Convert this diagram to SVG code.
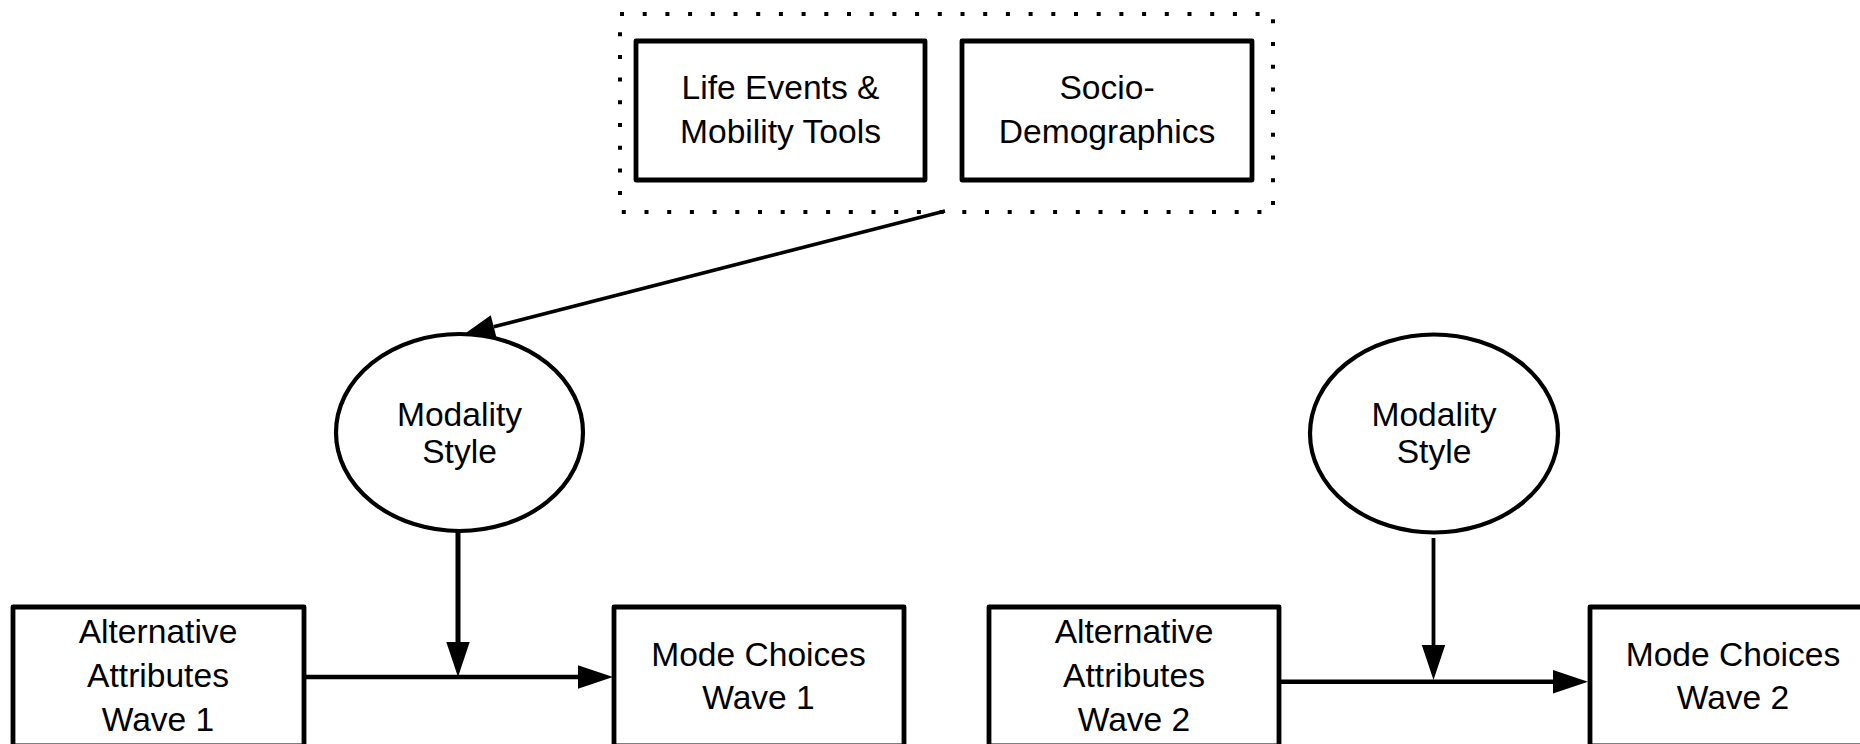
<svg xmlns="http://www.w3.org/2000/svg" width="1860" height="744" viewBox="0 0 1860 744">
  <style>
    .box { fill: #ffffff; stroke: #000000; stroke-width: 4.8; stroke-linejoin: round; }
    .ell { fill: #ffffff; stroke: #000000; stroke-width: 4.2; }
    .dots { fill: none; stroke: #000000; stroke-width: 4; stroke-dasharray: 4 18.7; }
    .conn { fill: none; stroke: #000000; }
    text { font-family: "Liberation Sans", Arial, sans-serif; font-size: 33.6px; fill: #000000; text-anchor: middle; }
  </style>
  <defs>
    <marker id="arrowL" markerUnits="userSpaceOnUse" markerWidth="36" markerHeight="24" refX="0" refY="11.7" orient="auto" overflow="visible">
      <path d="M0,0 L35,11.7 L0,23.4 z" fill="#000000"/>
    </marker>
    <marker id="arrowS" markerUnits="userSpaceOnUse" markerWidth="32" markerHeight="24" refX="0" refY="11.8" orient="auto" overflow="visible">
      <path d="M0,0 L31,11.8 L0,23.6 z" fill="#000000"/>
    </marker>
  </defs>
  <rect width="1860" height="744" fill="#ffffff"/>

  <g id="group-exogenous">
    <rect class="dots" x="620" y="14" width="653" height="198"/>
  </g>

  <g id="node-life-events">
    <rect class="box" x="636" y="41" width="289" height="139"/>
    <text x="780.5" y="99">Life Events &amp;</text>
    <text x="780.5" y="143">Mobility Tools</text>
  </g>

  <g id="node-socio-demographics">
    <rect class="box" x="962" y="41" width="290" height="139"/>
    <text x="1107" y="99">Socio-</text>
    <text x="1107" y="143">Demographics</text>
  </g>

  <g id="node-modality-style-1">
    <ellipse class="ell" cx="459.5" cy="432.5" rx="123.5" ry="98.5"/>
    <text x="459.5" y="425.5">Modality</text>
    <text x="459.5" y="462.5">Style</text>
  </g>

  <g id="node-modality-style-2">
    <ellipse class="ell" cx="1434" cy="433.5" rx="124" ry="99"/>
    <text x="1434" y="425.5">Modality</text>
    <text x="1434" y="462.5">Style</text>
  </g>

  <g id="node-alt-attributes-1">
    <rect class="box" x="13" y="607" width="291" height="139"/>
    <text x="158" y="643">Alternative</text>
    <text x="158" y="687">Attributes</text>
    <text x="158" y="731">Wave 1</text>
  </g>

  <g id="node-mode-choices-1">
    <rect class="box" x="614" y="607" width="290" height="139"/>
    <text x="758.5" y="665.7">Mode Choices</text>
    <text x="758.5" y="709">Wave 1</text>
  </g>

  <g id="node-alt-attributes-2">
    <rect class="box" x="989" y="607" width="290" height="139"/>
    <text x="1134" y="643">Alternative</text>
    <text x="1134" y="687">Attributes</text>
    <text x="1134" y="731">Wave 2</text>
  </g>

  <g id="node-mode-choices-2">
    <rect class="box" x="1590" y="607" width="290" height="139"/>
    <text x="1733" y="665.7">Mode Choices</text>
    <text x="1733" y="709">Wave 2</text>
  </g>

  <g id="connectors">
    <path class="conn" stroke-width="3.6" d="M945,211 L493.7,326.7" marker-end="url(#arrowS)"/>
    <path class="conn" stroke-width="5" d="M458,531 L458,642" marker-end="url(#arrowL)"/>
    <path class="conn" stroke-width="4.4" d="M304,677 L578,677" marker-end="url(#arrowL)"/>
    <path class="conn" stroke-width="3.8" d="M1433.5,538 L1433.5,645" marker-end="url(#arrowL)"/>
    <path class="conn" stroke-width="4.4" d="M1279,681.7 L1553,681.7" marker-end="url(#arrowL)"/>
  </g>
</svg>
